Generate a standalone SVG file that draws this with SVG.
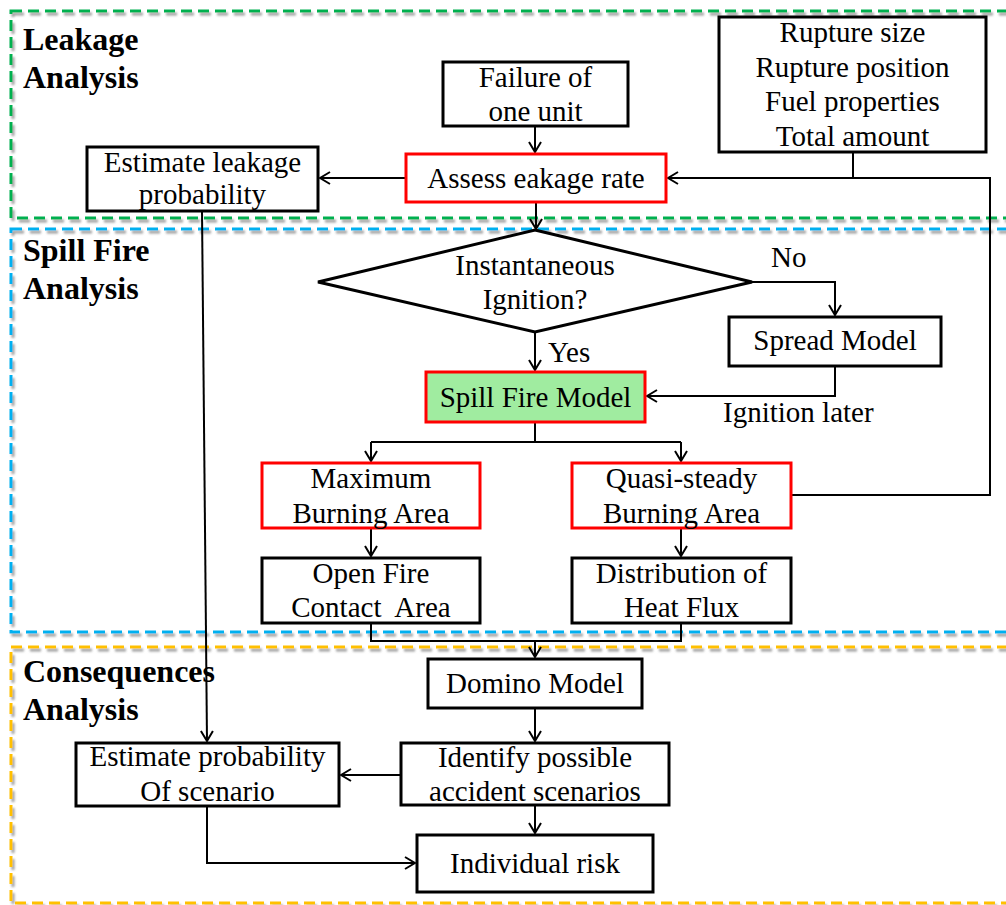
<svg xmlns="http://www.w3.org/2000/svg" width="1006" height="905" viewBox="0 0 1006 905">
<style>
.t{font-family:"Liberation Serif","Times New Roman",serif;font-size:29px;fill:#000}
.m{text-anchor:middle}
.h{font-family:"Liberation Serif","Times New Roman",serif;font-size:32px;font-weight:bold;fill:#000}
.box{fill:#fff;stroke:#000;stroke-width:3}
.red{fill:#fff;stroke:#ff0000;stroke-width:3}
.reg{fill:none;stroke-width:3;stroke-dasharray:11 6}
.c{fill:none;stroke:#000;stroke-width:2}
.a{marker-end:url(#arr)}
</style>
<defs>
<filter id="sh" x="-5%" y="-5%" width="110%" height="110%">
<feDropShadow dx="2" dy="3" stdDeviation="1.2" flood-color="#777" flood-opacity="0.7"/>
</filter>
<marker id="arr" markerUnits="userSpaceOnUse" markerWidth="12" markerHeight="14" viewBox="0 0 12 14" refX="11" refY="7" orient="auto">
<path d="M1,1 L11,7 L1,13" fill="none" stroke="#000" stroke-width="2"/>
</marker>
</defs>
<rect width="1006" height="905" fill="#fff"/>
<g id="regions">
<rect class="reg" x="11" y="11" width="1010" height="207" stroke="#00b050" filter="url(#sh)"/>
<rect class="reg" x="11" y="229" width="1010" height="403" stroke="#00b0f0" filter="url(#sh)"/>
<rect class="reg" x="11" y="647" width="1010" height="256" stroke="#ffc000" filter="url(#sh)"/>
<text class="h" x="23" y="50">Leakage</text>
<text class="h" x="23" y="88">Analysis</text>
<text class="h" x="23" y="261">Spill Fire</text>
<text class="h" x="23" y="299">Analysis</text>
<text class="h" x="23" y="682">Consequences</text>
<text class="h" x="23" y="720">Analysis</text>
</g>
<g id="connectors">
<path class="c a" d="M535,126 V152"/>
<path class="c a" d="M536,202 V229"/>
<path class="c a" d="M406,178 H320"/>
<path class="c" d="M853,152 V178"/>
<path class="c a" d="M791,495 H990 V178 H668"/>
<path class="c a" d="M535,332 V370"/>
<path class="c a" d="M752,282 H835 V315"/>
<path class="c a" d="M835,366 V396 H647"/>
<path class="c" d="M535,422 V442 M371,442 H681"/>
<path class="c a" d="M371,442 V461"/>
<path class="c a" d="M681,442 V461"/>
<path class="c a" d="M371,528 V556"/>
<path class="c a" d="M681,528 V556"/>
<path class="c" d="M371,623 V641 H681 V623"/>
<path class="c a" d="M535,641 V657"/>
<path class="c a" d="M535,708 V741"/>
<path class="c a" d="M535,805 V833"/>
<path class="c a" d="M401,775 H341"/>
<path class="c a" d="M207,806 V863 H415"/>
<path class="c a" d="M202,211 L207,741"/>
<text class="t" x="771" y="267">No</text>
<text class="t" x="548" y="362">Yes</text>
<text class="t" x="723" y="422">Ignition later</text>
</g>
<g id="failure">
<rect class="box" x="443" y="62" width="185" height="64"/>
<text class="t m" x="535.5" y="87">Failure of</text>
<text class="t m" x="535.5" y="121">one unit</text>
</g>
<g id="rupture">
<rect class="box" x="719" y="17" width="267" height="135"/>
<text class="t m" x="852.5" y="42">Rupture size</text>
<text class="t m" x="852.5" y="77">Rupture position</text>
<text class="t m" x="852.5" y="111">Fuel properties</text>
<text class="t m" x="852.5" y="146">Total amount</text>
</g>
<g id="assess">
<rect class="red" x="406" y="154" width="260" height="48"/>
<text class="t m" x="536" y="188">Assess eakage rate</text>
</g>
<g id="leakprob">
<rect class="box" x="87" y="147" width="231" height="64"/>
<text class="t m" x="202.5" y="172">Estimate leakage</text>
<text class="t m" x="202.5" y="204">probability</text>
</g>
<g id="decision">
<polygon points="535,230 752,282 535,332 318,282" fill="#fff" stroke="#000" stroke-width="3"/>
<text class="t m" x="535" y="275">Instantaneous</text>
<text class="t m" x="535" y="309">Ignition?</text>
</g>
<g id="spread">
<rect class="box" x="729" y="317" width="212" height="49"/>
<text class="t m" x="835" y="350">Spread Model</text>
</g>
<g id="spillfire">
<rect x="426" y="372" width="219" height="50" fill="#a0eca0" stroke="#ff0000" stroke-width="3"/>
<text class="t m" x="535.5" y="407">Spill Fire Model</text>
</g>
<g id="maxarea">
<rect class="red" x="262" y="463" width="218" height="65"/>
<text class="t m" x="371" y="488">Maximum</text>
<text class="t m" x="371" y="523">Burning Area</text>
</g>
<g id="quasi">
<rect class="red" x="572" y="463" width="219" height="65"/>
<text class="t m" x="681.5" y="488">Quasi-steady</text>
<text class="t m" x="681.5" y="523">Burning Area</text>
</g>
<g id="openfire">
<rect class="box" x="262" y="558" width="218" height="65"/>
<text class="t m" x="371" y="583">Open Fire</text>
<text class="t m" x="371" y="617" xml:space="preserve">Contact  Area</text>
</g>
<g id="heatflux">
<rect class="box" x="572" y="558" width="219" height="65"/>
<text class="t m" x="681.5" y="583">Distribution of</text>
<text class="t m" x="681.5" y="617">Heat Flux</text>
</g>
<g id="domino">
<rect class="box" x="428" y="659" width="214" height="49"/>
<text class="t m" x="535" y="693">Domino Model</text>
</g>
<g id="identify">
<rect class="box" x="401" y="743" width="268" height="62"/>
<text class="t m" x="535" y="767">Identify possible</text>
<text class="t m" x="535" y="801">accident scenarios</text>
</g>
<g id="estprob">
<rect class="box" x="76" y="743" width="263" height="63"/>
<text class="t m" x="207.5" y="766">Estimate probability</text>
<text class="t m" x="207.5" y="801">Of scenario</text>
</g>
<g id="risk">
<rect class="box" x="417" y="835" width="236" height="57"/>
<text class="t m" x="535" y="873">Individual risk</text>
</g>
</svg>
